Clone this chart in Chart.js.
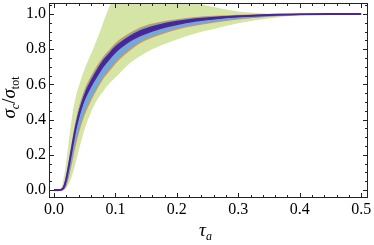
<!DOCTYPE html>
<html>
<head>
<meta charset="utf-8">
<script src="https://cdn.jsdelivr.net/npm/chart.js@4.4.1/dist/chart.umd.min.js"></script>
<style>
  html, body { margin:0; padding:0; background:#fff; }
  #c { display:block; }
</style>
</head>
<body>
<canvas id="c" width="374" height="245"></canvas>
<script>
// tau grid shared by all curves
const tau = [0, 0.004, 0.008, 0.012, 0.016, 0.02, 0.025, 0.03, 0.035, 0.04, 0.045, 0.05, 0.06, 0.07, 0.08, 0.09, 0.1, 0.12, 0.14, 0.16, 0.18, 0.2, 0.23, 0.26, 0.3, 0.35, 0.4, 0.45, 0.5];

// central curve
const center = [0, 0, 0, 0.002, 0.015, 0.06, 0.15, 0.25, 0.345, 0.42, 0.48, 0.53, 0.603, 0.663, 0.717, 0.76, 0.798, 0.853, 0.89, 0.916, 0.936, 0.95, 0.966, 0.977, 0.987, 0.995, 0.999, 1.0, 1.0];

// purple band
const purpleHi = [0.003, 0.003, 0.003, 0.004, 0.02, 0.07, 0.163, 0.266, 0.363, 0.44, 0.501, 0.552, 0.625, 0.686, 0.74, 0.781, 0.818, 0.87, 0.908, 0.932, 0.95, 0.962, 0.976, 0.985, 0.992, 0.998, 1.001, 1.001, 1.001];
const purpleLo = [-0.003, -0.003, -0.003, 0.0, 0.01, 0.052, 0.137, 0.234, 0.327, 0.4, 0.459, 0.508, 0.58, 0.64, 0.695, 0.738, 0.778, 0.834, 0.872, 0.9, 0.921, 0.937, 0.956, 0.969, 0.982, 0.992, 0.997, 0.999, 0.999];

// blue band
const blueHi = [0.004, 0.004, 0.004, 0.006, 0.026, 0.08, 0.178, 0.282, 0.378, 0.455, 0.515, 0.565, 0.637, 0.696, 0.75, 0.79, 0.828, 0.88, 0.918, 0.941, 0.957, 0.968, 0.98, 0.988, 0.994, 0.999, 1.001, 1.001, 1.001];
const blueLo = [-0.005, -0.005, -0.005, -0.002, 0.002, 0.025, 0.09, 0.175, 0.26, 0.33, 0.39, 0.44, 0.515, 0.58, 0.64, 0.684, 0.727, 0.79, 0.84, 0.872, 0.896, 0.916, 0.938, 0.955, 0.972, 0.987, 0.996, 0.999, 0.999];

// orange band
const orangeHi = [0.005, 0.005, 0.005, 0.008, 0.03, 0.088, 0.188, 0.292, 0.388, 0.465, 0.525, 0.575, 0.647, 0.706, 0.758, 0.798, 0.836, 0.887, 0.924, 0.946, 0.961, 0.971, 0.983, 0.99, 0.996, 1.0, 1.002, 1.002, 1.002];
const orangeLo = [-0.006, -0.006, -0.006, -0.003, 0.0, 0.02, 0.08, 0.16, 0.245, 0.315, 0.375, 0.425, 0.504, 0.57, 0.63, 0.674, 0.717, 0.782, 0.833, 0.866, 0.89, 0.911, 0.934, 0.951, 0.969, 0.985, 0.995, 0.998, 0.998];

// green band
const greenHi = [0, 0, 0.002, 0.015, 0.07, 0.16, 0.3, 0.43, 0.52, 0.585, 0.64, 0.69, 0.77, 0.855, 0.95, 1.04, 1.11, 1.17, 1.18, 1.16, 1.13, 1.1, 1.065, 1.04, 1.015, 1.004, 1.001, 1.0, 1.0];
const greenLo = [0, 0, 0, 0, 0.004, 0.012, 0.04, 0.085, 0.15, 0.22, 0.285, 0.345, 0.44, 0.51, 0.56, 0.605, 0.64, 0.71, 0.76, 0.8, 0.83, 0.856, 0.89, 0.915, 0.948, 0.975, 0.993, 0.999, 1.0];

// ticks
const xTicks = [0, 0.1, 0.2, 0.3, 0.4, 0.5];
const xTickLabels = ["0.0", "0.1", "0.2", "0.3", "0.4", "0.5"];
const yTicks = [0, 0.2, 0.4, 0.6, 0.8, 1.0];
const yTickLabels = ["0.0", "0.2", "0.4", "0.6", "0.8", "1.0"];

const pts = arr => tau.map((t, i) => ({x: t, y: arr[i]}));

function band(arr, color, fill) {
  return {
    data: pts(arr),
    borderColor: 'transparent',
    borderWidth: 0,
    backgroundColor: color,
    fill: fill,
    pointRadius: 0,
    cubicInterpolationMode: 'monotone'
  };
}

const SERIF = '"Liberation Serif", "Times New Roman", serif';

// frame, inward ticks, tick labels and axis titles (Mathematica style)
const framePlugin = {
  id: 'frame',
  afterDraw(chart) {
    const {ctx, chartArea: a, scales: {x, y}} = chart;
    ctx.save();
    ctx.strokeStyle = '#222';
    ctx.lineWidth = 1;
    ctx.strokeRect(a.left + 0.5, a.top + 0.5, a.right - a.left - 1, a.bottom - a.top - 1);

    ctx.beginPath();
    // x ticks (major 0.1, minor 0.02)
    for (let k = 0; k <= 25; k++) {
      const v = k * 0.02;
      const px = Math.round(x.getPixelForValue(v)) + 0.5;
      const len = k % 5 === 0 ? 5 : 3;
      ctx.moveTo(px, a.bottom); ctx.lineTo(px, a.bottom - len);
      ctx.moveTo(px, a.top); ctx.lineTo(px, a.top + len);
    }
    // y ticks (major 0.2, minor 0.05)
    for (let k = 0; k <= 21; k++) {
      const v = k * 0.05;
      const py = Math.round(y.getPixelForValue(v)) + 0.5;
      const len = k % 4 === 0 ? 5 : 3;
      ctx.moveTo(a.left, py); ctx.lineTo(a.left + len, py);
      ctx.moveTo(a.right, py); ctx.lineTo(a.right - len, py);
    }
    ctx.stroke();

    ctx.fillStyle = '#000';
    ctx.font = '16px ' + SERIF;
    ctx.textAlign = 'center';
    ctx.textBaseline = 'top';
    xTicks.forEach((v, i) => ctx.fillText(xTickLabels[i], x.getPixelForValue(v), a.bottom + 4));
    ctx.textAlign = 'right';
    ctx.textBaseline = 'middle';
    yTicks.forEach((v, i) => ctx.fillText(yTickLabels[i], a.left - 3, y.getPixelForValue(v)));

    // rich text helper: parts = [text, font, baseline shift]
    function rich(parts, cx, baseY) {
      let w = 0;
      parts.forEach(p => { ctx.font = p[1]; w += ctx.measureText(p[0]).width; });
      let cur = cx - w / 2;
      ctx.textAlign = 'left';
      ctx.textBaseline = 'alphabetic';
      parts.forEach(p => {
        ctx.font = p[1];
        ctx.fillText(p[0], cur, baseY + p[2]);
        cur += ctx.measureText(p[0]).width;
      });
    }

    // x title  tau_a
    rich([['τ', 'italic 19px ' + SERIF, 0], ['a', 'italic 12px ' + SERIF, 4]],
         (a.left + a.right) / 2 - 3, 236);

    // y title  sigma_c / sigma_tot
    ctx.save();
    ctx.translate(15, (a.top + a.bottom) / 2 - 3);
    ctx.rotate(-Math.PI / 2);
    rich([['σ', 'italic 19px ' + SERIF, 0], ['c', 'italic 12px ' + SERIF, 4],
          ['/', '19px ' + SERIF, 0],
          ['σ', 'italic 19px ' + SERIF, 0], ['tot', '12px ' + SERIF, 4]], 0, 0);
    ctx.restore();

    ctx.restore();
  }
};

const chart = new Chart(document.getElementById('c'), {
  type: 'line',
  data: {
    datasets: [
      {
        data: pts(center),
        borderColor: '#4a24a0',
        borderWidth: 2,
        pointRadius: 0,
        fill: false,
        cubicInterpolationMode: 'monotone'
      },
      band(purpleHi, '#4b2a8e', '+1'),
      band(purpleLo, 'transparent', false),
      band(blueHi, '#74a8d6', '+1'),
      band(blueLo, 'transparent', false),
      band(orangeHi, '#f3962c', '+1'),
      band(orangeLo, 'transparent', false),
      band(greenHi, '#d5e5a6', '+1'),
      band(greenLo, 'transparent', false)
    ]
  },
  options: {
    responsive: false,
    animation: false,
    events: [],
    layout: { padding: { left: 49, right: 6, top: 3, bottom: 47 } },
    plugins: { legend: { display: false }, tooltip: { enabled: false } },
    scales: {
      x: { type: 'linear', min: -0.008, max: 0.511, display: false },
      y: { type: 'linear', min: -0.045, max: 1.063, display: false }
    }
  },
  plugins: [framePlugin]
});

// redraw once the serif faces are ready
if (document.fonts) {
  Promise.all([
    document.fonts.load('16px "Liberation Serif"'),
    document.fonts.load('italic 19px "Liberation Serif"')
  ]).then(() => chart.draw());
}
</script>
</body>
</html>
